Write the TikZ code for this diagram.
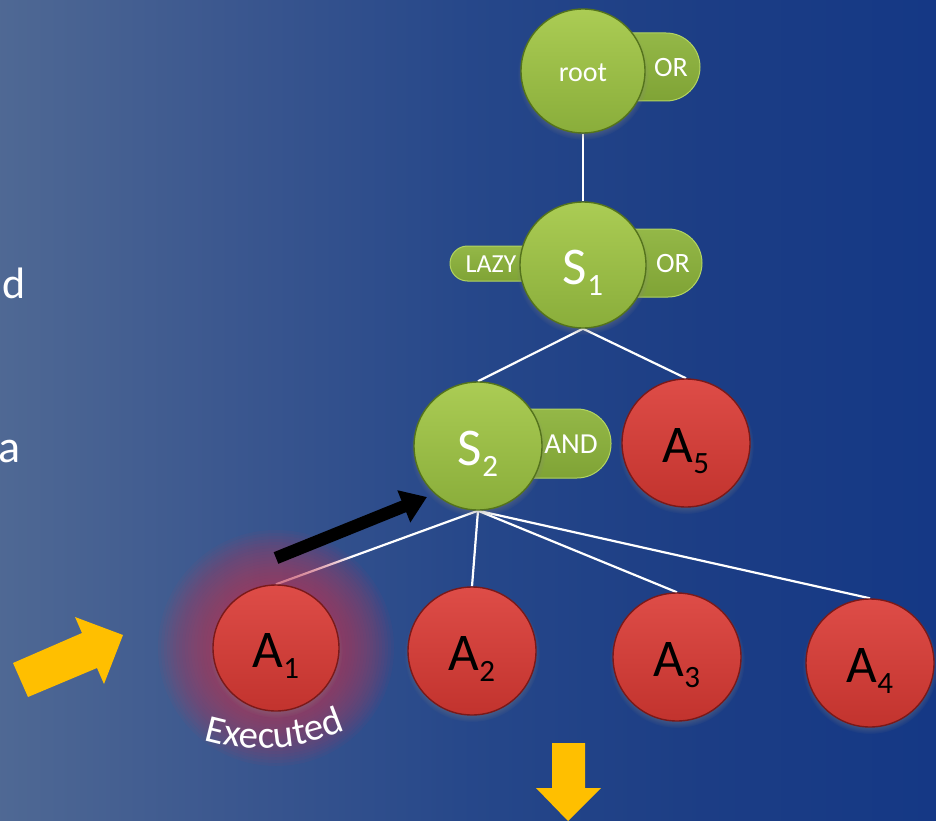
\documentclass[tikz,border=0pt]{standalone}
\usepackage{fontspec}
\setmainfont{Carlito}
\usetikzlibrary{arrows.meta,shadows,decorations.text,fadings}

\definecolor{gtop}{rgb}{0.67,0.80,0.33}
\definecolor{gbot}{rgb}{0.54,0.68,0.23}
\definecolor{gedge}{rgb}{0.33,0.45,0.11}
\definecolor{rtop}{rgb}{0.87,0.30,0.28}
\definecolor{rbot}{rgb}{0.76,0.20,0.18}
\definecolor{redge}{rgb}{0.48,0.10,0.10}
\definecolor{ptop}{rgb}{0.58,0.72,0.28}
\definecolor{pbot}{rgb}{0.50,0.64,0.21}
\definecolor{prim}{rgb}{0.70,0.83,0.38}
\definecolor{ayellow}{rgb}{1.0,0.75,0.0}
\definecolor{glowc}{rgb}{0.76,0.22,0.34}

\pgfdeclarehorizontalshading{bgshade}{100bp}{rgb(0bp)=(0.31,0.41,0.58); rgb(25bp)=(0.31,0.41,0.58); rgb(37.5bp)=(0.23,0.34,0.56); rgb(50bp)=(0.15,0.28,0.54); rgb(62.5bp)=(0.11,0.24,0.52); rgb(75bp)=(0.08,0.22,0.52); rgb(100bp)=(0.08,0.22,0.52)}

\newcommand\bigf{\fontsize{53}{53}\selectfont}
\newcommand\rootf{\fontsize{28}{28}\selectfont}
\newcommand\pillf{\fontsize{28}{28}\selectfont}
\newcommand\execf{\fontsize{39}{39}\selectfont}
\newcommand\sbs[1]{\raisebox{-11pt}{\fontsize{31}{31}\selectfont #1}}

\pgfdeclarelayer{bglayer}
\pgfdeclarelayer{edgelayer}
\pgfsetlayers{bglayer,edgelayer,main}

\tikzset{
  ballbase/.style={circle, inner sep=0pt, line width=1.4pt,
    circular drop shadow={shadow xshift=0pt, shadow yshift=-3pt, shadow scale=1.06, opacity=0.5},
    text height=38pt, text depth=0pt, font=\bigf},
  gball/.style={ballbase, top color=gtop, bottom color=gbot, draw=gedge, text=white},
  rball/.style={ballbase, top color=rtop, bottom color=rbot, draw=redge, text=black},
  link/.style={white, line width=2.2pt},
  pill/.style={top color=ptop, bottom color=pbot, draw=prim, line width=1pt},
  pilltext/.style={text=white, font=\pillf, inner sep=0pt},
  yarrow/.style={fill=ayellow},
}

\begin{document}
\begin{tikzpicture}[x=1pt,y=-1pt]
\useasboundingbox (0,0) rectangle (936,821);
\begin{pgfonlayer}{bglayer}
  \shade[shading=bgshade] (0,0) rectangle (936,821);
\end{pgfonlayer}

% partial words at the left edge
\node[anchor=base east, inner sep=0pt, text=white, font=\fontsize{44}{44}\selectfont] (ld) at (26,298) {d};
\node[anchor=base east, inner sep=0pt, text=white, font=\fontsize{46}{46}\selectfont] (la) at (21,462) {a};

% pills
\path[pill, rounded corners=34pt] (590,33) rectangle (700,101);
\node[pilltext] (rootOR) at (671,68) {OR};
\path[pill, rounded corners=17.5pt] (450,246) rectangle (583,281);
\node[pilltext, font=\fontsize{26}{26}\selectfont] (s1LAZY) at (491,264) {LAZY};
\path[pill, rounded corners=34pt] (590,229) rectangle (702,297);
\node[pilltext] (s1OR) at (673,264) {OR};
\path[pill, rounded corners=34pt] (480,409) rectangle (611,478);
\node[pilltext, font=\fontsize{29}{29}\selectfont] (s2AND) at (571,444) {AND};

% balls
\node[gball, minimum size=124pt, font=\rootf, text height=22pt] (root) at (583,71) {root};
\node[gball, minimum size=126pt] (S1) at (583,265) {S\sbs{1}};
\node[gball, minimum size=128pt] (S2) at (478,446) {S\sbs{2}};
\node[rball, minimum size=128pt] (A5) at (686,443) {A\sbs{5}};
\coordinate (A1c) at (276,648);
\node[rball, minimum size=126pt] (A1) at (A1c) {A\sbs{1}};
\node[rball, minimum size=128pt] (A2) at (472,651) {A\sbs{2}};
\node[rball, minimum size=128pt] (A3) at (677,657) {A\sbs{3}};
\node[rball, minimum size=128pt] (A4) at (870,663) {A\sbs{4}};

\begin{pgfonlayer}{edgelayer}
  \draw[link] (root.south) -- (S1.north);
  \draw[link] (S1.south) -- (S2.north);
  \draw[link] (S1.south) -- (A5.north);
  \draw[link] (S2.south) -- (A1.north);
  \draw[link] (S2.south) -- (A2.north);
  \draw[link] (S2.south) -- (A3.north);
  \draw[link] (S2.south) -- (A4.north);
  \foreach \r in {118,115,...,63}
    \fill[glowc, opacity=0.055] (A1c) circle (\r pt);
\end{pgfonlayer}

% black arrow
\coordinate (BAtail) at (276,558);
\coordinate (BAtip) at (427,497);
\draw[black, line width=12.5pt, -{Triangle[length=25pt, width=33pt]}] (BAtail) -- (BAtip);

% yellow arrows
\fill[yarrow] (13,663) -- (82,633) -- (75,617) -- (123,635) -- (104,684) -- (97,668) -- (28,697) -- cycle;
\fill[yarrow] (552,743) -- (585,743) -- (585,788) -- (601,788) -- (568,821) -- (536,788) -- (552,788) -- cycle;

% Executed label
\path[decorate, decoration={text along path, text={|\execf|Executed}, text align=center, text color=white}]
  (194,737) .. controls (240,754) and (300,753) .. (355,726);
\end{tikzpicture}
\end{document}
